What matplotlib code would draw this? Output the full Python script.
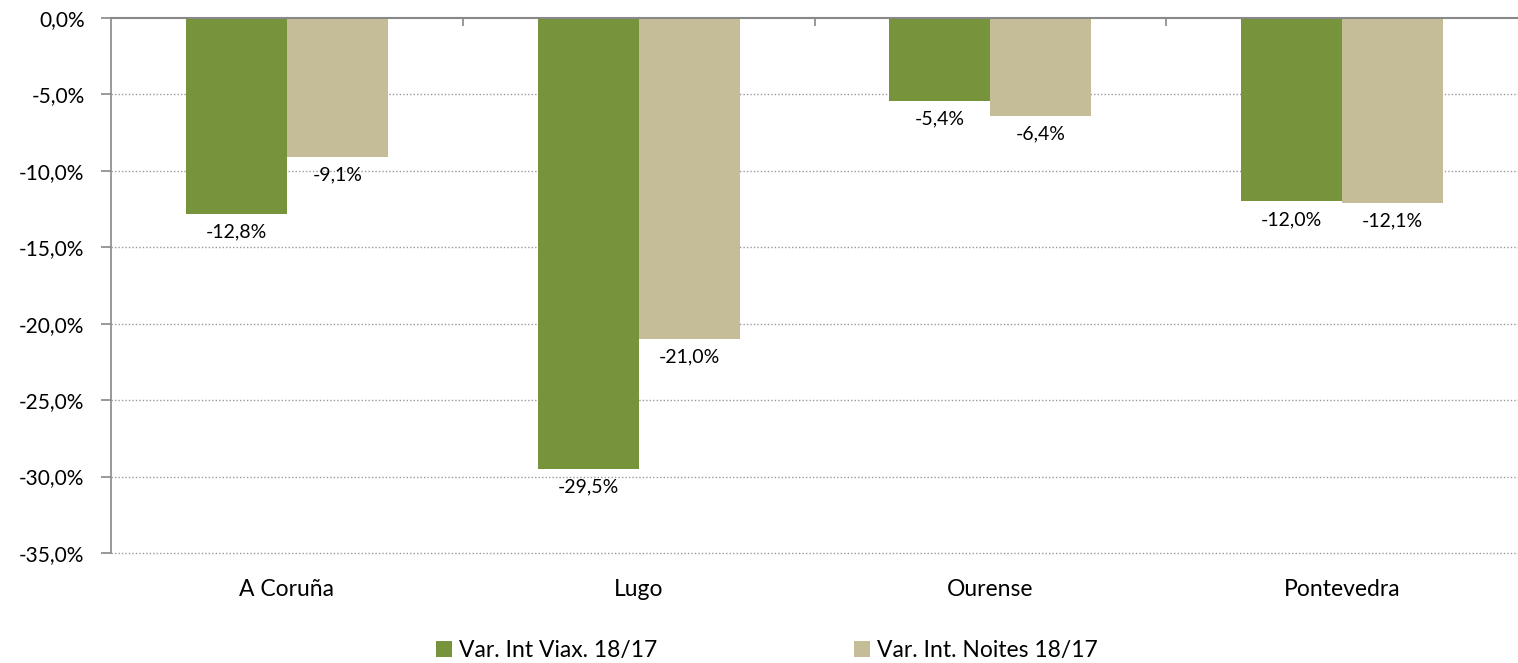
import matplotlib
matplotlib.use("Agg")
import matplotlib.pyplot as plt
import numpy as np

# Datos
provincias = ["A Coruña", "Lugo", "Ourense", "Pontevedra"]
var_viax = [-12.8, -29.5, -5.4, -12.0]
var_noites = [-9.1, -21.0, -6.4, -12.1]
serie_nomes = ["Var. Int Viax. 18/17", "Var. Int. Noites 18/17"]
cores = ["#77933C", "#C4BD97"]

plt.rcParams['font.family'] = ['Lato', 'DejaVu Sans']


def fmt(v):
    return f"{v:.1f}%".replace(".", ",")


fig = plt.figure(figsize=(15.18, 6.63), dpi=100)
ax = fig.add_axes([111 / 1518, 110 / 663, 1 - 111 / 1518, 535 / 663])

x = np.arange(len(provincias))
w = 0.287
b1 = ax.bar(x - w / 2, var_viax, w, color=cores[0], label=serie_nomes[0])
b2 = ax.bar(x + w / 2, var_noites, w, color=cores[1], label=serie_nomes[1])

for bars, vals in ((b1, var_viax), (b2, var_noites)):
    for rect, v in zip(bars, vals):
        ax.annotate(fmt(v), (rect.get_x() + rect.get_width() / 2, v),
                    xytext=(0, -7), textcoords="offset points",
                    ha="center", va="top", fontsize=14)

ax.set_xlim(-0.5, len(provincias) - 0.5)
ax.set_ylim(-35, 0)
yt = np.arange(-35, 1, 5)
ax.set_yticks(yt)
ax.set_yticklabels([fmt(t) for t in yt], fontsize=15)
ax.set_xticks(x)
ax.set_xticklabels(provincias, fontsize=16.5)
ax.set_xticks(np.arange(0.5, len(provincias) - 0.5, 1), minor=True)

ax.tick_params(axis='x', which='major', length=0, pad=19)
ax.tick_params(axis='x', which='minor', bottom=False, top=True,
               direction='in', length=6, color='#888888', width=1.2)
ax.tick_params(axis='y', length=7, color='#888888', width=1.2, pad=12)

for t in yt[:-1]:
    ax.axhline(t, linestyle=(0, (1, 1.5)), color='#999999', linewidth=1,
               zorder=0, clip_on=False)
for s in ["right", "bottom"]:
    ax.spines[s].set_visible(False)
ax.spines["top"].set_color('#888888')
ax.spines["top"].set_linewidth(1.5)
ax.spines["left"].set_color('#888888')
ax.spines["left"].set_linewidth(1.2)

fig.legend(handles=[b1, b2], loc="lower center", bbox_to_anchor=(0.505, -0.028),
           ncol=2, frameon=False, fontsize=16.5, handlelength=0.7,
           handleheight=0.7, handletextpad=0.3, columnspacing=8.6)

fig.savefig("out.png", dpi=100)
